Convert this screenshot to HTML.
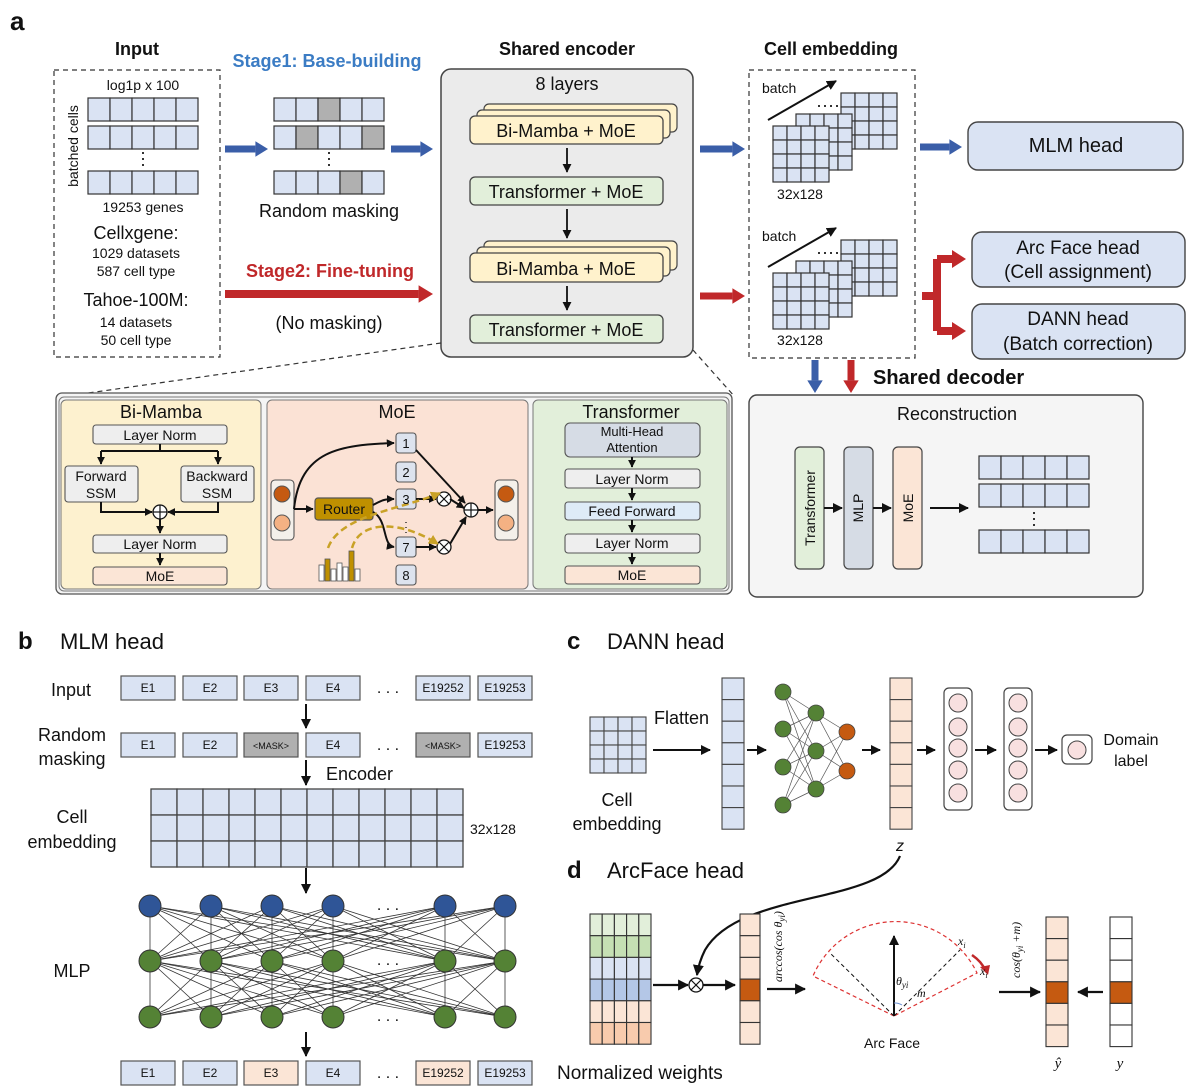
<!DOCTYPE html>
<html><head><meta charset="utf-8"><style>
html,body{margin:0;padding:0;background:#fff}
svg{display:block}
text{font-family:"Liberation Sans",Arial,sans-serif;fill:#111}
.b{font-weight:bold}
</style></head><body>
<svg id="s" width="1200" height="1089" viewBox="0 0 1200 1089" xmlns="http://www.w3.org/2000/svg">
<defs>
<marker id="ah" viewBox="0 0 10 10" refX="9" refY="5" markerWidth="5" markerHeight="5" orient="auto-start-reverse"><path d="M0,0L10,5L0,10z" fill="#111"/></marker>
<marker id="ahs" viewBox="0 0 10 10" refX="9" refY="5" markerWidth="4" markerHeight="4" orient="auto"><path d="M0,0L10,5L0,10z" fill="#111"/></marker>
<marker id="ahg" viewBox="0 0 10 10" refX="9" refY="5" markerWidth="4" markerHeight="4" orient="auto"><path d="M0,0L10,5L0,10z" fill="#c9a227"/></marker>
</defs>
<g id="g"></g>
<g id="t">
<text x="10" y="30" font-size="26" class="b">a</text>
<text x="137" y="55" font-size="18" class="b" text-anchor="middle">Input</text>
<text x="327" y="67" font-size="18" class="b" text-anchor="middle" style="fill:#3b7cc4">Stage1: Base-building</text>
<text x="567" y="55" font-size="18" class="b" text-anchor="middle">Shared encoder</text>
<text x="831" y="55" font-size="18" class="b" text-anchor="middle">Cell embedding</text>
<text x="143" y="90" font-size="14" text-anchor="middle">log1p x 100</text>
<text x="0" y="0" font-size="14" text-anchor="middle" transform="translate(78,146) rotate(-90)">batched cells</text>
<text x="143" y="212" font-size="14" text-anchor="middle">19253 genes</text>
<text x="136" y="239" font-size="18" text-anchor="middle">Cellxgene:</text>
<text x="136" y="258" font-size="14" text-anchor="middle">1029 datasets</text>
<text x="136" y="276" font-size="14" text-anchor="middle">587 cell type</text>
<text x="136" y="306" font-size="18" text-anchor="middle">Tahoe-100M:</text>
<text x="136" y="327" font-size="14" text-anchor="middle">14 datasets</text>
<text x="136" y="345" font-size="14" text-anchor="middle">50 cell type</text>
<text x="329" y="217" font-size="18" text-anchor="middle">Random masking</text>
<text x="330" y="277" font-size="18" class="b" text-anchor="middle" style="fill:#c0282a">Stage2: Fine-tuning</text>
<text x="329" y="329" font-size="18" text-anchor="middle">(No masking)</text>
<text x="567" y="90" font-size="18" text-anchor="middle">8 layers</text>
<text x="566" y="137" font-size="18" text-anchor="middle">Bi-Mamba + MoE</text>
<text x="566" y="198" font-size="18" text-anchor="middle">Transformer + MoE</text>
<text x="566" y="275" font-size="18" text-anchor="middle">Bi-Mamba + MoE</text>
<text x="566" y="336" font-size="18" text-anchor="middle">Transformer + MoE</text>
<text x="762" y="93" font-size="14">batch</text>
<text x="762" y="241" font-size="14">batch</text>
<text x="800" y="199" font-size="14" text-anchor="middle">32x128</text>
<text x="800" y="345" font-size="14" text-anchor="middle">32x128</text>
<text x="1076" y="152" font-size="20" text-anchor="middle">MLM head</text>
<text x="1078" y="254" font-size="19" text-anchor="middle">Arc Face head</text>
<text x="1078" y="278" font-size="19" text-anchor="middle">(Cell assignment)</text>
<text x="1078" y="325" font-size="19" text-anchor="middle">DANN head</text>
<text x="1078" y="350" font-size="19" text-anchor="middle">(Batch correction)</text>
<text x="873" y="384" font-size="20" class="b">Shared decoder</text>
<text x="957" y="420" font-size="18" text-anchor="middle">Reconstruction</text>
<text font-size="14" text-anchor="middle" transform="translate(815,508) rotate(-90)">Transformer</text>
<text font-size="14" text-anchor="middle" transform="translate(863,508) rotate(-90)">MLP</text>
<text font-size="14" text-anchor="middle" transform="translate(913,508) rotate(-90)">MoE</text>
<text x="161" y="418" font-size="18" text-anchor="middle">Bi-Mamba</text>
<text x="397" y="418" font-size="18" text-anchor="middle">MoE</text>
<text x="631" y="418" font-size="18" text-anchor="middle">Transformer</text>
<text x="160" y="440" font-size="14" text-anchor="middle">Layer Norm</text>
<text x="101" y="481" font-size="14" text-anchor="middle">Forward</text>
<text x="101" y="498" font-size="14" text-anchor="middle">SSM</text>
<text x="217" y="481" font-size="14" text-anchor="middle">Backward</text>
<text x="217" y="498" font-size="14" text-anchor="middle">SSM</text>
<text x="160" y="549" font-size="14" text-anchor="middle">Layer Norm</text>
<text x="160" y="581" font-size="14" text-anchor="middle">MoE</text>
<text x="344" y="514" font-size="14" text-anchor="middle">Router</text>
<text x="406" y="448" font-size="13" text-anchor="middle">1</text>
<text x="406" y="477" font-size="13" text-anchor="middle">2</text>
<text x="406" y="504" font-size="13" text-anchor="middle">3</text>
<text x="406" y="552" font-size="13" text-anchor="middle">7</text>
<text x="406" y="580" font-size="13" text-anchor="middle">8</text>
<text x="632" y="436" font-size="13" text-anchor="middle">Multi-Head</text>
<text x="632" y="452" font-size="13" text-anchor="middle">Attention</text>
<text x="632" y="484" font-size="14" text-anchor="middle">Layer Norm</text>
<text x="632" y="516" font-size="14" text-anchor="middle">Feed Forward</text>
<text x="632" y="548" font-size="14" text-anchor="middle">Layer Norm</text>
<text x="632" y="580" font-size="14" text-anchor="middle">MoE</text>
<text x="18" y="649" font-size="24" class="b">b</text>
<text x="60" y="649" font-size="22">MLM head</text>
<text x="71" y="696" font-size="18" text-anchor="middle">Input</text>
<text x="72" y="741" font-size="18" text-anchor="middle">Random</text>
<text x="72" y="765" font-size="18" text-anchor="middle">masking</text>
<text x="326" y="780" font-size="18">Encoder</text>
<text x="72" y="823" font-size="18" text-anchor="middle">Cell</text>
<text x="72" y="848" font-size="18" text-anchor="middle">embedding</text>
<text x="470" y="834" font-size="14">32x128</text>
<text x="72" y="977" font-size="18" text-anchor="middle">MLP</text>
<text x="567" y="649" font-size="24" class="b">c</text>
<text x="607" y="649" font-size="22">DANN head</text>
<text x="654" y="724" font-size="18">Flatten</text>
<text x="617" y="806" font-size="18" text-anchor="middle">Cell</text>
<text x="617" y="830" font-size="18" text-anchor="middle">embedding</text>
<text x="1131" y="745" font-size="16" text-anchor="middle">Domain</text>
<text x="1131" y="766" font-size="16" text-anchor="middle">label</text>
<text x="900" y="851" font-size="16" font-style="italic" text-anchor="middle">z</text>
<text x="567" y="878" font-size="24" class="b">d</text>
<text x="607" y="878" font-size="22">ArcFace head</text>
<text x="557" y="1079" font-size="19">Normalized weights</text>
<text x="892" y="1048" font-size="14" text-anchor="middle">Arc Face</text>
<text font-size="12" font-style="italic" transform="translate(782,982) rotate(-90)" style="font-family:'Liberation Serif',serif">arccos(cos θ<tspan font-size="9" dy="3">yi</tspan><tspan dy="-3">)</tspan></text>
<text font-size="12" font-style="italic" transform="translate(1020,978) rotate(-90)" style="font-family:'Liberation Serif',serif">cos(θ<tspan font-size="9" dy="3">yi</tspan><tspan dy="-3"> +m)</tspan></text>
<text x="896" y="985" font-size="12" font-style="italic" style="font-family:'Liberation Serif',serif">θ<tspan font-size="9" dy="3">yi</tspan></text>
<text x="917" y="997" font-size="12" font-style="italic" style="font-family:'Liberation Serif',serif">m</text>
<text x="958" y="945" font-size="12" font-style="italic" style="font-family:'Liberation Serif',serif">x<tspan font-size="8" dy="3">i</tspan></text>
<text x="980" y="975" font-size="12" font-style="italic" style="font-family:'Liberation Serif',serif">x<tspan font-size="8" dy="3">i</tspan></text>
<text x="1058" y="1068" font-size="15" font-style="italic" text-anchor="middle" style="font-family:'Liberation Serif',serif">ŷ</text>
<text x="1120" y="1068" font-size="15" font-style="italic" text-anchor="middle" style="font-family:'Liberation Serif',serif">y</text>
</g>
<g id="t2"></g>
</svg>
<script>
var NS="http://www.w3.org/2000/svg",G=document.getElementById('g'),T2=document.getElementById('t2');
function el(n,a,p){var e=document.createElementNS(NS,n);for(var k in a)e.setAttribute(k,a[k]);(p||G).appendChild(e);return e;}
function R(x,y,w,h,f,s,rx,sw){return el('rect',{x:x,y:y,width:w,height:h,fill:f||'none',stroke:s||'#333','stroke-width':sw||1.3,rx:rx||0});}
function L(x1,y1,x2,y2,s,sw,m,d){var a={x1:x1,y1:y1,x2:x2,y2:y2,stroke:s||'#111','stroke-width':sw||1.5};if(m)a['marker-end']='url(#'+m+')';if(d)a['stroke-dasharray']=d;return el('line',a);}
function P(d,s,sw,f,m,da){var a={d:d,stroke:s||'#111','stroke-width':sw||1.5,fill:f||'none'};if(m)a['marker-end']='url(#'+m+')';if(da)a['stroke-dasharray']=da;return el('path',a);}
function C(x,y,r,f,s,sw){return el('circle',{cx:x,cy:y,r:r,fill:f,stroke:s||'#333','stroke-width':sw||1});}
function grid(x,y,c,r,cw,ch,f,s,sw,fills){for(var i=0;i<r;i++)for(var j=0;j<c;j++){var ff=fills?(fills(i,j)||f):f;R(x+j*cw,y+i*ch,cw,ch,ff,s||'#333',0,sw||1.2);}}
function TX(x,y,s,fs,anc){var t=el('text',{x:x,y:y,'font-size':fs,'text-anchor':anc||'middle'},T2);t.textContent=s;return t;}
function fat(x1,y1,x2,y2,col,w){
 var dx=x2-x1,dy=y2-y1,len=Math.sqrt(dx*dx+dy*dy),ux=dx/len,uy=dy/len,hl=w*1.8,hw=w*1.1;
 var bx=x2-ux*hl,by=y2-uy*hl,nx=-uy,ny=ux;
 el('line',{x1:x1,y1:y1,x2:bx,y2:by,stroke:col,'stroke-width':w});
 el('polygon',{points:[x2,y2,bx+nx*hw,by+ny*hw,bx-nx*hw,by-ny*hw].join(','),fill:col});}
var LB='#dae3f3',BL='#3a5ea8',RD='#c0282a',PE='#fbe5d6',GR='#e2efda',YL='#fff2cc',GY='#b0b0b0';
R(54,70,166,287,'none','#333',0,1.2).setAttribute('stroke-dasharray','5,4');
[98,126,171].forEach(function(y){grid(88,y,5,1,22,23,LB);});
L(143,152,143,167,'#333',2,null,'2,4');
var mk={98:[2],126:[1,4],171:[3]};
[98,126,171].forEach(function(y){grid(274,y,5,1,22,23,LB,'#333',1.2,function(i,j){return mk[y].indexOf(j)>=0?GY:null;});});
L(329,152,329,167,'#333',2,null,'2,4');
fat(225,149,268,149,BL,7);fat(391,149,433,149,BL,7);
fat(225,294,433,294,RD,8);
R(441,69,252,288,'#ebebeb','#444',10,1.5);
function stack(y,h){R(484,y-12,193,h,YL,'#444',5,1.2);R(477,y-6,193,h,YL,'#444',5,1.2);R(470,y,193,h,YL,'#444',5,1.3);}
stack(116,28);R(470,177,193,28,GR,'#444',5,1.3);stack(253,29);R(470,315,193,28,GR,'#444',5,1.3);
L(567,148,567,172,'#111',1.8,'ah');L(567,209,567,238,'#111',1.8,'ah');L(567,286,567,310,'#111',1.8,'ah');
L(441,343,60,397,'#333',1.2,null,'5,4');L(693,350,735,397,'#333',1.2,null,'5,4');
R(749,70,166,288,'none','#333',0,1.2).setAttribute('stroke-dasharray','5,4');
function cstack(dy){grid(841,93+dy,4,4,14,14,LB);grid(796,114+dy,4,4,14,14,LB);grid(773,126+dy,4,4,14,14,LB);
 L(768,120+dy,836,81+dy,'#111',2,'ah');L(818,106+dy,840,106+dy,'#333',2,null,'2,4');}
cstack(0);cstack(147);
fat(700,149,745,149,BL,7);fat(700,296,745,296,RD,7);
fat(920,147,962,147,BL,7);
R(968,122,215,48,LB,'#444',10,1.4);R(972,232,213,55,LB,'#444',10,1.4);R(972,304,213,55,LB,'#444',10,1.4);
el('path',{d:'M922,296 L937,296 M937,259 L937,331 M937,259 L955,259 M937,331 L955,331',stroke:RD,'stroke-width':8,fill:'none'});
el('polygon',{points:'966,259 952,250 952,268',fill:RD});el('polygon',{points:'966,331 952,322 952,340',fill:RD});
fat(815,360,815,393,BL,7);fat(851,360,851,393,RD,7);
R(749,395,394,202,'#f5f5f5','#444',8,1.4);
R(795,447,29,122,GR,'#444',5,1.2);R(844,447,29,122,'#d6dce5','#444',5,1.2);R(893,447,29,122,PE,'#444',5,1.2);
L(824,508,842,508,'#111',2,'ah');L(873,508,891,508,'#111',2,'ah');L(930,508,968,508,'#111',2,'ah');
[456,484,530].forEach(function(y){grid(979,y,5,1,22,23,LB);});L(1034,512,1034,527,'#333',2,null,'2,4');
R(56,393,676,201,'#f4f4f4','#555',6,1.3);R(59,397,670,194,'none','#777',5,1);
R(61,400,200,189,'#fdf1cf','#777',5,1);R(267,400,261,189,'#fbe2d5','#777',5,1);R(533,400,194,189,'#e2efda','#777',5,1);
var LN='#eeeeee';
R(93,425,134,19,LN,'#555',3,1.1);R(65,466,73,36,LN,'#555',3,1.1);R(181,466,73,36,LN,'#555',3,1.1);
R(93,535,134,18,LN,'#555',3,1.1);R(93,567,134,18,PE,'#555',3,1.1);
P('M160,444 L160,451 M101,451 L218,451','#111',2);L(101,451,101,464,'#111',2,'ahs');L(218,451,218,464,'#111',2,'ahs');
P('M101,502 L101,512 L152,512','#111',2,'none','ahs');P('M218,502 L218,512 L168,512','#111',2,'none','ahs');
C(160,512,7,'#fff','#111',1.3);L(153,512,167,512,'#111',1.2);L(160,505,160,519,'#111',1.2);
L(160,519,160,533,'#111',2,'ahs');L(160,553,160,565,'#111',2,'ahs');
R(271,480,23,60,'#f4f0ea','#555',4,1.1);C(282,494,8,'#c55a11','#555');C(282,523,8,'#f4b183','#555');
R(495,480,23,60,'#f4f0ea','#555',4,1.1);C(506,494,8,'#c55a11','#555');C(506,523,8,'#f4b183','#555');
R(315,498,58,22,'#bf9000','#555',3,1.2);
[443,472,499,547,575].forEach(function(y){R(396,y-10,20,20,'#dde3ee','#555',3,1.1);});
L(406,522,406,536,'#333',1.5,null,'1,4');
P('M294,509 C300,450 340,445 394,443','#111',2,'none','ahs');L(294,509,313,509,'#111',2,'ahs');
P('M373,505 C382,500 385,499 394,499','#111',2,'none','ahs');P('M373,512 C388,520 382,545 394,547','#111',2,'none','ahs');
L(416,499,436,499,'#111',2,'ahs');L(416,547,436,547,'#111',2,'ahs');
C(444,499,7,'#fff','#111',1.3);C(444,547,7,'#fff','#111',1.3);
L(439,494,449,504,'#111',1.2);L(449,494,439,504,'#111',1.2);L(439,542,449,552,'#111',1.2);L(449,542,439,552,'#111',1.2);
P('M416,450 L465,503','#111',2,'none','ahs');P('M450,499 L464,508','#111',2,'none','ahs');P('M450,544 L466,517','#111',2,'none','ahs');
C(471,510,7,'#fff','#111',1.3);L(464,510,478,510,'#111',1.2);L(471,503,471,517,'#111',1.2);
L(478,510,493,510,'#111',2,'ahs');
[[319,8],[325,14],[331,4],[337,10],[343,6],[349,22],[355,4]].forEach(function(b,i){R(b[0],573-b[1],5,b[1]+8,(i==1||i==5)?'#bf9000':'#fff','#555',0,0.8);});
P('M328,548 C340,515 400,510 440,493','#c9a227',2.5,'none','ahg','7,4');P('M352,548 C360,520 400,520 438,544','#c9a227',2.5,'none','ahg','7,4');
R(565,423,135,34,'#d6dce5','#555',5,1.1);R(565,469,135,19,LN,'#555',3,1.1);R(565,502,135,18,'#deebf7','#555',3,1.1);
R(565,534,135,19,LN,'#555',3,1.1);R(565,566,135,18,PE,'#555',3,1.1);
[[457,467],[488,500],[520,532],[553,564]].forEach(function(a){L(632,a[0],632,a[1],'#111',2,'ahs');});
var xs=[121,183,244,306,416,478],lab=['E1','E2','E3','E4','E19252','E19253'];
function row(y,fills,labs){xs.forEach(function(x,i){R(x,y,54,24,fills[i],'#555',0,1.2);TX(x+27,y+16,labs[i],labs[i]=='<MASK>'?9:12);});TX(388,y+17,'. . .',16);}
row(676,[LB,LB,LB,LB,LB,LB],lab);
row(733,[LB,LB,GY,LB,GY,LB],['E1','E2','<MASK>','E4','<MASK>','E19253']);
row(1061,[LB,LB,PE,LB,PE,LB],lab);
L(306,704,306,728,'#111',2,'ah');L(306,760,306,785,'#111',2,'ah');L(306,868,306,893,'#111',2,'ah');L(306,1032,306,1056,'#111',2,'ah');
grid(151,789,12,3,26,26,LB,'#444',1.3);
var nx=[150,211,272,333,445,505],ny=[906,961,1017];
for(var k=0;k<2;k++)nx.forEach(function(a){nx.forEach(function(b){L(a,ny[k],b,ny[k+1],'#333',0.8);});});
ny.forEach(function(y,k){nx.forEach(function(x){C(x,y,11,k==0?'#2f5597':'#548235','#333',1);});TX(388,y+4,'. . .',16);});
grid(590,717,4,4,14,14,LB,'#444',1.1);L(653,750,710,750,'#111',2,'ah');
grid(722,678,1,7,22,21.6,LB,'#444',1.1);L(747,750,766,750,'#111',2,'ah');
var l1=[692,729,767,805],l2=[713,751,789],l3=[732,771];
l1.forEach(function(a){l2.forEach(function(b){L(783,a,816,b,'#555',0.7);});});
l2.forEach(function(a){l3.forEach(function(b){L(816,a,847,b,'#555',0.7);});});
l1.forEach(function(y){C(783,y,8,'#548235','#444',0.8);});l2.forEach(function(y){C(816,y,8,'#548235','#444',0.8);});l3.forEach(function(y){C(847,y,8,'#c55a11','#444',0.8);});
L(862,750,880,750,'#111',2,'ah');grid(890,678,1,7,22,21.6,PE,'#444',1.1);L(917,750,935,750,'#111',2,'ah');
function col(x){R(x,688,28,122,'#fff','#444',5,1.2);[703,727,748,770,793].forEach(function(y){C(x+14,y,9,'#f8e0e0','#444',1);});}
col(944);L(975,750,996,750,'#111',2,'ah');col(1004);L(1035,750,1057,750,'#111',2,'ah');
R(1062,735,30,29,'#fff','#444',5,1.2);C(1077,750,9,'#f8e0e0','#444',1);
P('M900,856 C880,905 740,890 705,950 C700,960 698,968 697,975','#111',2.2,'none','ah');
var wf=['#e2efda','#c5e0b4','#dae3f3','#b4c7e7','#fbe5d6','#f8cbad'];
for(var i=0;i<6;i++)grid(590,914+i*21.7,5,1,12.2,21.7,wf[i],'#333',1.1);
L(653,985,688,985,'#111',2.2,'ah');C(696,985,7,'#fff','#111',1.3);L(691,980,701,990,'#111',1.2);L(701,980,691,990,'#111',1.2);
L(703,985,735,985,'#111',2.2,'ah');
grid(740,914,1,6,20,21.7,PE,'#333',1.1,function(i){return i==3?'#c55a11':null;});
L(767,989,805,989,'#111',2.2,'ah');
P('M894,1016 L813,976 A90,90 0 0 1 977,973 Z','#d33',1.2,'none',null,'4,3');
L(894,1016,894,936,'#111',2,'ah');L(894,1016,829,952,'#111',1,null,'4,3');L(894,1016,960,950,'#111',1,null,'4,3');
P('M894,1003 A13,13 0 0 1 902,1005','#6a8fd0',1);P('M972,955 Q982,962 985,970','#c0282a',2.5,'none');el('polygon',{points:'988,975 980,967 990,965',fill:'#c0282a'});
L(999,992,1040,992,'#111',2.2,'ah');
grid(1046,917,1,6,22,21.6,PE,'#333',1.1,function(i){return i==3?'#c55a11':null;});
L(1103,992,1078,992,'#111',2.2,'ah');
grid(1110,917,1,6,22,21.6,'#fff','#333',1.1,function(i){return i==3?'#c55a11':null;});
</script>
</body></html>
